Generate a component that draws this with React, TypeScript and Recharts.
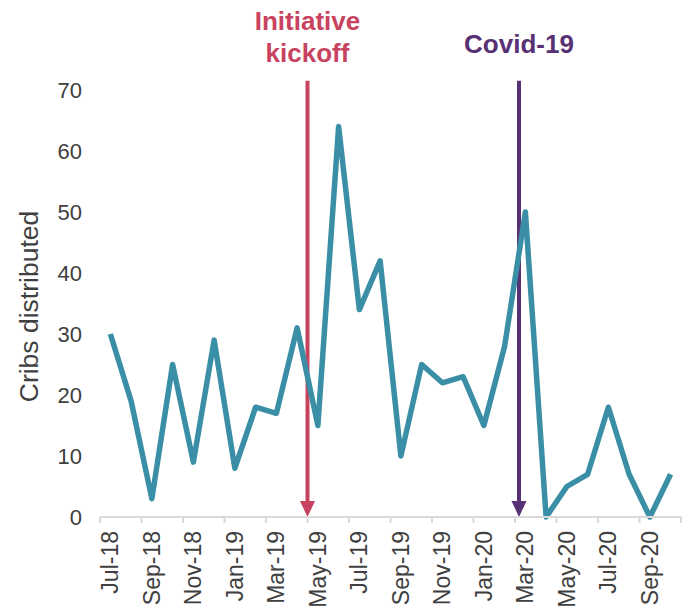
import React from 'react';
import { LineChart, Line, XAxis, YAxis, ReferenceLine } from 'recharts';

const months = [
  'Jul-18', 'Aug-18', 'Sep-18', 'Oct-18', 'Nov-18', 'Dec-18',
  'Jan-19', 'Feb-19', 'Mar-19', 'Apr-19', 'May-19', 'Jun-19',
  'Jul-19', 'Aug-19', 'Sep-19', 'Oct-19', 'Nov-19', 'Dec-19',
  'Jan-20', 'Feb-20', 'Mar-20', 'Apr-20', 'May-20', 'Jun-20',
  'Jul-20', 'Aug-20', 'Sep-20', 'Oct-20',
];
const cribs = [
  30, 19, 3, 25, 9, 29,
  8, 18, 17, 31, 15, 64,
  34, 42, 10, 25, 22, 23,
  15, 28, 50, 0, 5, 7,
  18, 7, 0, 7,
];
const yTicks = [0, 10, 20, 30, 40, 50, 60, 70];

// annotated events: arrow drawn at the start of the month
const eventMonths = ['May-19', 'Mar-20'];
const eventLabels = [['Initiative', 'kickoff'], ['Covid-19']];
const eventColors = ['#C8435F', '#583175'];
const eventNudge = [0, 4];

const data = months.map((month, i) => ({ month, cribs: cribs[i] }));

const W = 688;
const H = 609;
const M = { top: 90, right: 7, bottom: 0, left: 0 };
const Y_W = 100;
const X_H = 92;
const BW = (W - M.left - M.right - Y_W) / months.length;

const FONT = '"Liberation Sans", Arial, sans-serif';
const TXT = '#404040';
const AXIS = '#D9D9D9';

function MonthTick(props: any) {
  const { x, y, payload } = props;
  const i = months.indexOf(payload.value);
  const showLabel = i % 2 === 0;
  const last = i === months.length - 1;
  return (
    <g>
      {showLabel && <line x1={x - BW / 2} x2={x - BW / 2} y1={y} y2={y + 6} stroke={AXIS} strokeWidth={2} />}
      {last && <line x1={x + BW / 2} x2={x + BW / 2} y1={y} y2={y + 6} stroke={AXIS} strokeWidth={2} />}
      {showLabel && (
        <text
          x={x}
          y={y + 14}
          transform={`rotate(-90, ${x}, ${y + 14})`}
          textAnchor="end"
          dy="0.35em"
          fontSize={23}
          fontFamily={FONT}
          fill={TXT}
        >
          {payload.value}
        </text>
      )}
    </g>
  );
}

function Arrow(props: any) {
  const { x1, y1, y2, color, nudge, lines } = props;
  const x = x1 + nudge;
  const top = Math.min(y1, y2);
  const bottom = Math.max(y1, y2);
  return (
    <g>
      <line x1={x} x2={x} y1={top} y2={bottom - 14} stroke={color} strokeWidth={4} />
      <polygon points={`${x - 7.5},${bottom - 16} ${x + 7.5},${bottom - 16} ${x},${bottom}`} fill={color} />
      <text
        x={x}
        y={top - 19 - (lines.length - 1) * 32 - (lines.length === 1 ? 9 : 0)}
        textAnchor="middle"
        fontSize={26}
        fontWeight="bold"
        fontFamily={FONT}
        fill={color}
      >
        {lines.map((l: string, k: number) => (
          <tspan key={k} x={x} dy={k === 0 ? 0 : 32}>{l}</tspan>
        ))}
      </text>
    </g>
  );
}

export default function App() {
  return (
    <div style={{ position: 'absolute', left: 0, top: 0, background: '#fff' }}>
      <LineChart width={W} height={H} data={data} margin={M}>
        <XAxis
          dataKey="month"
          scale="band"
          interval={0}
          height={X_H}
          tickLine={false}
          tickSize={0}
          tickMargin={0}
          axisLine={{ stroke: AXIS, strokeWidth: 2 }}
          tick={<MonthTick />}
        />
        <YAxis
          width={Y_W}
          domain={[0, 70]}
          ticks={yTicks}
          axisLine={false}
          tickLine={false}
          tickSize={0}
          tickMargin={18}
          tick={{ fontSize: 22, fontFamily: FONT, fill: TXT }}
          label={{
            content: (p: any) => {
              const vb = p.viewBox;
              const cx = vb.x + 29;
              const cy = vb.y + vb.height / 2 + 3;
              return (
                <text
                  x={cx}
                  y={cy}
                  transform={`rotate(-90, ${cx}, ${cy})`}
                  textAnchor="middle"
                  dy="0.35em"
                  fontSize={26.5}
                  fontFamily={FONT}
                  fill={TXT}
                >
                  Cribs distributed
                </text>
              );
            },
          }}
        />
        {eventMonths.map((m, i) => (
          <ReferenceLine
            key={m}
            segment={[{ x: m, y: 0 }, { x: m, y: 71.5 }]}
            position="start"
            ifOverflow="visible"
            shape={(p: any) => (
              <Arrow {...p} color={eventColors[i]} nudge={eventNudge[i]} lines={eventLabels[i]} />
            )}
          />
        ))}
        <Line
          type="linear"
          dataKey="cribs"
          stroke="#3A8FA6"
          strokeWidth={5.5}
          strokeLinejoin="round"
          dot={false}
          activeDot={false}
          isAnimationActive={false}
        />
      </LineChart>
    </div>
  );
}
